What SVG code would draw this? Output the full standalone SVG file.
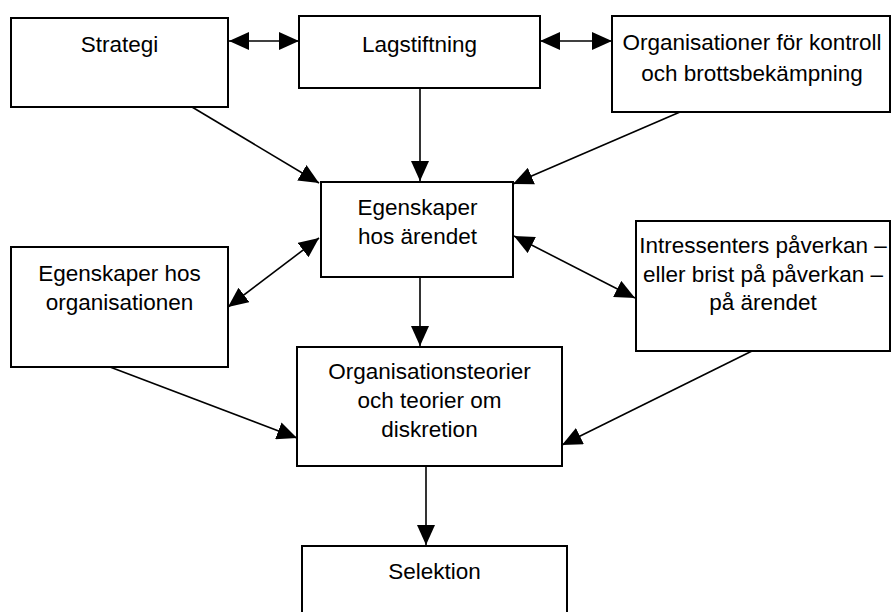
<svg xmlns="http://www.w3.org/2000/svg" width="891" height="612" viewBox="0 0 891 612">
<style>
.box{fill:#fff;stroke:#000;stroke-width:2}
.lbl{font-family:"Liberation Sans",Arial,Helvetica,sans-serif;font-size:22.5px;fill:#000;text-anchor:middle}
.con{stroke:#000;stroke-width:1.6;fill:none;marker-end:url(#ah)}
.bi{marker-start:url(#ah)}
</style>
<defs>
<marker id="ah" markerUnits="userSpaceOnUse" markerWidth="20" markerHeight="18" refX="20" refY="9" orient="auto-start-reverse" viewBox="0 0 20 18">
<path d="M0,0 L20,9 L0,18 Z" fill="#000"/>
</marker>
</defs>
<rect width="891" height="612" fill="#fff"/>
<g id="connectors">
<line class="con bi" x1="229" y1="41" x2="299" y2="41"/>
<line class="con bi" x1="540" y1="41" x2="612" y2="41"/>
<line class="con" x1="420" y1="88" x2="420" y2="181"/>
<line class="con" x1="192" y1="107" x2="319" y2="183"/>
<line class="con" x1="680" y1="112" x2="513" y2="184"/>
<line class="con bi" x1="228" y1="307" x2="319" y2="238"/>
<line class="con bi" x1="514" y1="236" x2="635" y2="298"/>
<line class="con" x1="420" y1="277" x2="420" y2="346"/>
<line class="con" x1="110" y1="367" x2="297" y2="438"/>
<line class="con" x1="752" y1="351" x2="562" y2="445"/>
<line class="con" x1="426" y1="466" x2="426" y2="545"/>
</g>
<g id="strategi">
<rect class="box" x="11" y="18" width="217" height="89"/>
<text class="lbl" x="119.5" y="52">Strategi</text>
</g>
<g id="lagstiftning">
<rect class="box" x="299" y="16" width="241" height="72"/>
<text class="lbl" x="419.5" y="52">Lagstiftning</text>
</g>
<g id="organisationer">
<rect class="box" x="612" y="16" width="278" height="96"/>
<text class="lbl" x="752" y="50">Organisationer för kontroll</text>
<text class="lbl" x="752" y="81">och brottsbekämpning</text>
</g>
<g id="egenskaper-arendet">
<rect class="box" x="321" y="182" width="192" height="95"/>
<text class="lbl" x="417.5" y="215">Egenskaper</text>
<text class="lbl" x="417.5" y="244">hos ärendet</text>
</g>
<g id="egenskaper-organisationen">
<rect class="box" x="11" y="247" width="217" height="120"/>
<text class="lbl" x="119.5" y="281">Egenskaper hos</text>
<text class="lbl" x="119.5" y="310">organisationen</text>
</g>
<g id="intressenter">
<rect class="box" x="636" y="221" width="254" height="130"/>
<text class="lbl" x="763" y="253">Intressenters påverkan –</text>
<text class="lbl" x="763" y="282">eller brist på påverkan –</text>
<text class="lbl" x="763" y="310">på ärendet</text>
</g>
<g id="organisationsteorier">
<rect class="box" x="297" y="347" width="265" height="119"/>
<text class="lbl" x="429.5" y="379">Organisationsteorier</text>
<text class="lbl" x="429.5" y="408">och teorier om</text>
<text class="lbl" x="429.5" y="437">diskretion</text>
</g>
<g id="selektion">
<rect class="box" x="302" y="546" width="265" height="80"/>
<text class="lbl" x="434.5" y="579">Selektion</text>
</g>
</svg>
